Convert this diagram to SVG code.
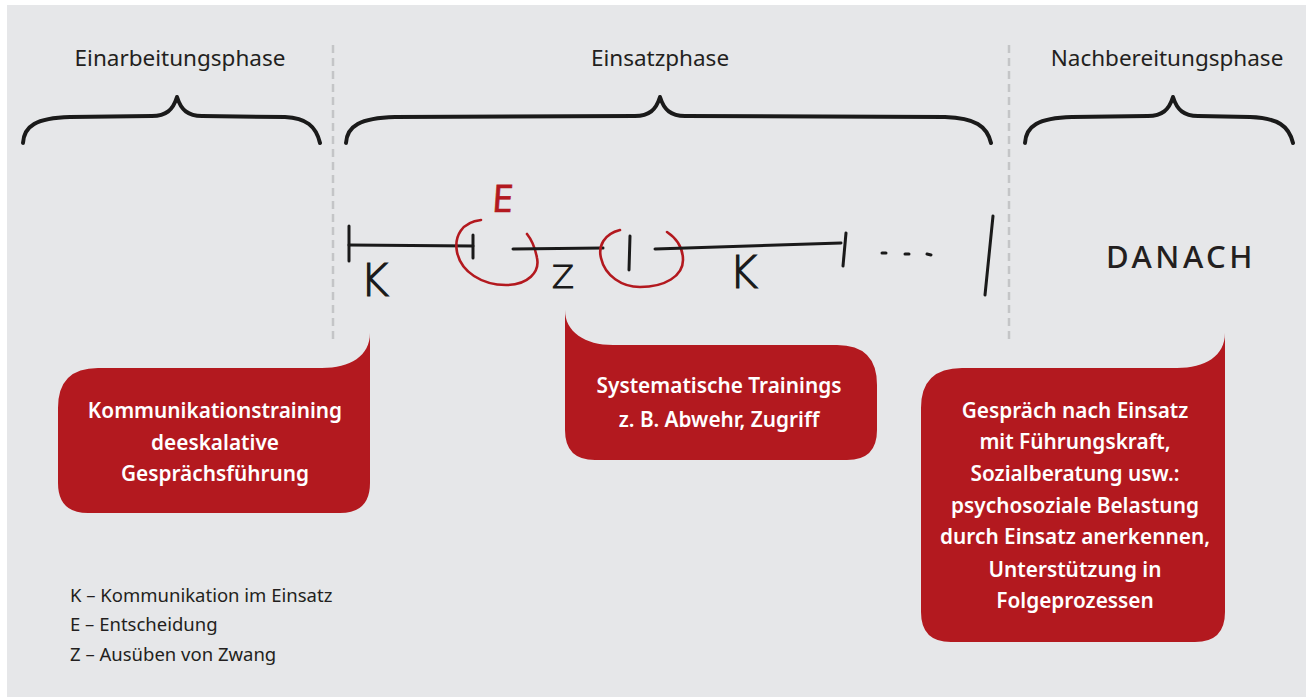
<svg xmlns="http://www.w3.org/2000/svg" width="1306" height="698" viewBox="0 0 1306 698">
<style>
.bg{fill:#e6e7e9}
.title{font-family:"Noto Sans","Open Sans",sans-serif;font-size:22.5px;fill:#231f20;text-anchor:middle}
.brace{fill:none;stroke:#1a1a1a;stroke-width:4;stroke-linecap:round;stroke-linejoin:round}
.dash{stroke:#c4c5c7;stroke-width:2.5;stroke-dasharray:8 5}
.ink{fill:none;stroke:#1a1a1a;stroke-width:3;stroke-linecap:round}
.redink{fill:none;stroke:#b3191f;stroke-width:2.6;stroke-linecap:round}
.hand{font-family:"DejaVu Sans","Liberation Sans",sans-serif;font-weight:200;fill:#1a1a1a;stroke:#1a1a1a;stroke-width:1.2}
.box{fill:#b3191f}
.boxtxt{font-family:"Noto Sans","Open Sans",sans-serif;font-size:20.8px;font-weight:600;fill:#ffffff;text-anchor:middle}
.legend{font-family:"Noto Sans","Open Sans",sans-serif;font-size:18.5px;fill:#231f20}
</style>
<rect class="bg" x="7" y="5" width="1299" height="692"/>

<g id="dividers">
<line class="dash" x1="333" y1="45" x2="333" y2="340"/>
<line class="dash" x1="1009" y1="45" x2="1009" y2="340"/>
</g>

<g id="phase-einarbeitung">
<text class="title" x="180" y="66">Einarbeitungsphase</text>
<path class="brace" d="M23,143 C24,126 36,118 70,117 L152,116 C166,116 173,110 177,97 C181,110 188,116 202,116 L285,117 C306,118 316,126 320,143"/>
</g>
<g id="phase-einsatz">
<text class="title" x="660" y="66">Einsatzphase</text>
<path class="brace" d="M346,143 C347,126 360,118 395,117 L635,116 C649,116 656,110 660,97 C664,110 671,116 685,116 L945,117 C975,118 987,126 991,143"/>
</g>
<g id="phase-nachbereitung">
<text class="title" x="1167" y="66">Nachbereitungsphase</text>
<path class="brace" d="M1025,143 C1026,126 1038,118 1072,117 L1148,116 C1162,116 1169,110 1173,97 C1177,110 1184,116 1198,116 L1250,117 C1278,118 1289,126 1293,143"/>
</g>

<g id="timeline">
<line class="ink" x1="349" y1="226" x2="349" y2="261"/>
<line class="ink" x1="349" y1="245" x2="473" y2="246"/>
<line class="ink" x1="473" y1="235" x2="473" y2="258"/>
<path class="redink" d="M481,220 C462,222 454,236 457,252 C461,272 482,285 506,285 C528,285 540,272 537,258 C535,247 531,239 527,234"/>
<line class="ink" x1="513" y1="249" x2="603" y2="248"/>
<line class="ink" x1="630" y1="236" x2="629" y2="270"/>
<path class="redink" d="M620,230 C604,234 598,246 601,258 C605,276 622,287 640,287 C665,287 683,276 683,260 C683,247 676,238 667,232"/>
<line class="ink" x1="655" y1="249" x2="841" y2="243"/>
<line class="ink" x1="846" y1="233" x2="843" y2="266"/>
<line class="ink" x1="882" y1="253" x2="886" y2="253"/>
<line class="ink" x1="905" y1="254" x2="909" y2="254"/>
<line class="ink" x1="927" y1="254" x2="931" y2="255"/>
<line class="ink" x1="993" y1="216" x2="985" y2="295"/>
<text class="hand" x="360" y="296" font-size="44">K</text>
<text class="hand" x="552" y="288" font-size="32">Z</text>
<text class="hand" x="729" y="288" font-size="44">K</text>
<text x="506" y="212" font-family="Noto Sans, sans-serif" font-size="38" fill="#b3191f" stroke="#b3191f" stroke-width="0.6" transform="skewX(-4)">E</text>
</g>

<g id="danach">
<text x="1106" y="268" font-family="Noto Sans, Open Sans, sans-serif" font-size="31" font-weight="500" fill="#231f20" letter-spacing="3.5">DANACH</text>
</g>

<g id="box-kommunikation">
<path class="box" d="M98,368 H322 C350,368 370,356 370,333 V483 Q370,513 340,513 H88 Q58,513 58,483 V408 Q58,368 98,368 Z"/>
<text class="boxtxt" x="215" y="418">Kommunikationstraining</text>
<text class="boxtxt" x="215" y="450">deeskalative</text>
<text class="boxtxt" x="215" y="481">Gesprächsführung</text>
</g>

<g id="box-trainings">
<path class="box" d="M565,310 C565,332 585,345 613,345 H837 Q877,345 877,385 V430 Q877,460 847,460 H595 Q565,460 565,430 Z"/>
<text class="boxtxt" x="719" y="393">Systematische Trainings</text>
<text class="boxtxt" x="719" y="427">z. B. Abwehr, Zugriff</text>
</g>

<g id="box-nachbereitung">
<path class="box" d="M962,368 H1177 C1205,368 1225,356 1225,333 V612 Q1225,642 1195,642 H951 Q921,642 921,612 V408 Q921,368 962,368 Z"/>
<text class="boxtxt" x="1075" y="418">Gespräch nach Einsatz</text>
<text class="boxtxt" x="1075" y="449">mit Führungskraft,</text>
<text class="boxtxt" x="1075" y="481">Sozialberatung usw.:</text>
<text class="boxtxt" x="1075" y="513">psychosoziale Belastung</text>
<text class="boxtxt" x="1075" y="544">durch Einsatz anerkennen,</text>
<text class="boxtxt" x="1075" y="577">Unterstützung in</text>
<text class="boxtxt" x="1075" y="608">Folgeprozessen</text>
</g>

<g id="legend">
<text class="legend" x="70" y="602">K – Kommunikation im Einsatz</text>
<text class="legend" x="70" y="631">E – Entscheidung</text>
<text class="legend" x="70" y="661">Z – Ausüben von Zwang</text>
</g>
</svg>
